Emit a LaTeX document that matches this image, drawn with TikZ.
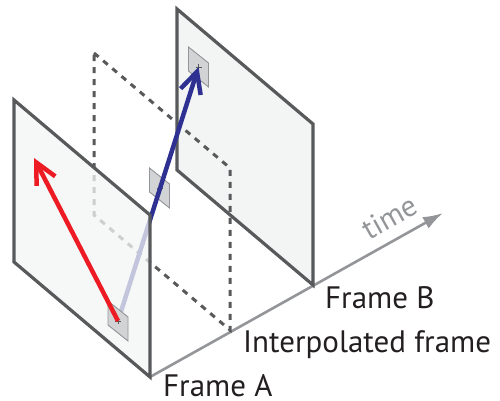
\documentclass[tikz,border=0pt]{standalone}
\usepackage{fontspec}
\setmainfont{PT Sans}
\usetikzlibrary{arrows.meta}
\definecolor{framegray}{HTML}{58595B}
\definecolor{framefill}{HTML}{F3F4F4}
\definecolor{axisgray}{HTML}{939598}
\definecolor{patchfill}{HTML}{D1D3D4}
\definecolor{patchedge}{HTML}{939598}
\definecolor{arrred}{HTML}{ED1C24}
\definecolor{arrblue}{HTML}{2E3192}
\definecolor{txt}{HTML}{231F20}
\begin{document}
\begin{tikzpicture}[x=1pt,y=-1pt,
  framebox/.style={draw=framegray, line width=3.2pt, fill=framefill, line join=miter},
  dashbox/.style={draw=framegray, line width=3pt, dash pattern=on 6pt off 6pt},
  axisline/.style={draw=axisgray, line width=2.6pt, -{Latex[length=20pt,width=13pt]}},
  motion/.style={line width=4.5pt, -{Straight Barb[length=21pt,width=21pt]}},
  lbl/.style={font=\fontsize{31}{36}\selectfont, text=txt, inner sep=0pt, anchor=base west},
  patchpic/.pic={
    \draw[fill=patchfill, draw=patchedge, line width=0.9pt] (-10,-20) -- (10,-4) -- (10,20) -- (-10,4) -- cycle;
    \draw[framegray, line width=0.8pt] (-3,0) -- (3,0) (0,-3) -- (0,3);
  }]
\useasboundingbox (0,0) rectangle (500,401);

% coordinates
\coordinate (O) at (150,377);
\coordinate (tend) at (443,213);
\coordinate (pa) at (118,321);
\coordinate (pi) at (159.5,188);
\coordinate (pb) at (198.5,67);

% time axis
\draw[axisline] (O) -- (tend);

% Frame B
\draw[framebox] (177,9) -- (313,124) -- (313,285) -- (177,170) -- cycle;
\pic at (pb) {patchpic};

% Interpolated frame
\draw[dashbox] (94,53) -- (230,168) -- (230,330) -- (94,215) -- cycle;
\pic at (pi) {patchpic};

% blue motion vector
\draw[motion, arrblue] (pa) -- (pb);

% Frame A (semi transparent fill)
\fill[framefill, fill opacity=0.76] (14,100) -- (150,215) -- (150,377) -- (14,262) -- cycle;
\draw[framegray, line width=3.2pt, line join=miter] (14,100) -- (150,215) -- (150,377) -- (14,262) -- cycle;
\pic at (pa) {patchpic};

% red motion vector
\coordinate (ra) at (34,158);
\draw[motion, arrred] (pa) -- (ra);

% labels
\node[lbl] (fa) at (163,396) {Frame A};
\node[lbl] (fb) at (325,308) {Frame B};
\node[lbl] (fi) at (243,352) {Interpolated frame};
\node[font=\fontsize{30}{34}\selectfont, text=axisgray, inner sep=0pt, anchor=base, rotate=29.2] (tl) at (395,226) {time};
\end{tikzpicture}
\end{document}
